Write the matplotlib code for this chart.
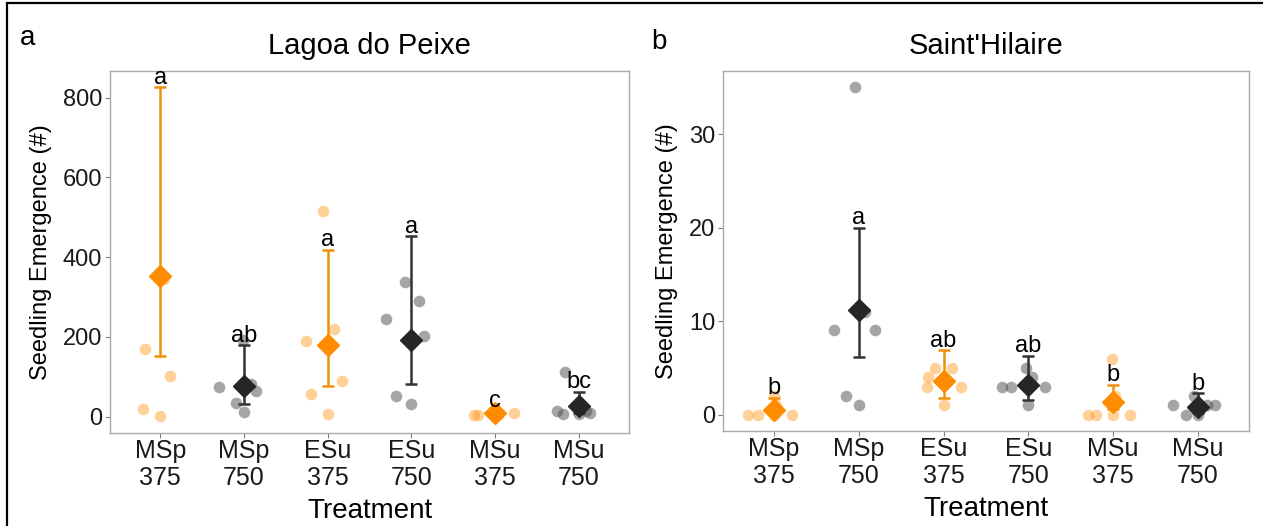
import matplotlib.pyplot as plt
import matplotlib.patches as mpatches

plt.rcParams['font.family'] = ['Liberation Sans', 'DejaVu Sans']

# treatments (same for both sites)
treatments = ['MSp\n375', 'MSp\n750', 'ESu\n375', 'ESu\n750', 'MSu\n375', 'MSu\n750']
is_orange = [True, False, True, False, True, False]

# Lagoa do Peixe: raw points per treatment
lp_points = [
    [170, 102, 20, 2, 346],
    [193, 82, 75, 65, 35, 12],
    [517, 221, 190, 90, 57, 6],
    [339, 290, 246, 202, 52, 33],
    [4, 5, 14, 12, 8, 3],
    [112, 15, 7, 6, 15, 10],
]
lp_mean = [352, 77, 179, 193, 9, 27]
lp_low = [152, 33, 77, 83, 3, 10]
lp_high = [826, 179, 419, 452, 14, 63]
lp_letters = ['a', 'ab', 'a', 'a', 'c', 'bc']

# Saint'Hilaire: raw points per treatment
sh_points = [
    [0, 0, 0, 0, 2, 1],
    [35, 9, 9, 11, 2, 1],
    [5, 5, 4, 3, 3, 1],
    [3, 3, 3, 5, 4, 1],
    [0, 0, 0, 6, 2, 0],
    [1, 0, 2, 1, 1, 0],
]
sh_mean = [0.53, 11.2, 3.56, 3.2, 1.35, 0.82]
sh_low = [0.1, 6.2, 1.74, 1.6, 0.6, 0.2]
sh_high = [1.78, 20.0, 6.9, 6.3, 3.2, 2.3]
sh_letters = ['b', 'a', 'ab', 'ab', 'b', 'b']

# horizontal jitter (in category units)
lp_jitter = [
    [-0.18, 0.12, -0.20, 0.0, 0.04],
    [-0.01, 0.09, -0.30, 0.15, -0.09, 0.0],
    [-0.06, 0.08, -0.26, 0.17, -0.20, 0.0],
    [-0.07, 0.09, -0.30, 0.15, -0.18, 0.0],
    [-0.25, -0.20, 0.0, -0.03, 0.23, 0.03],
    [-0.16, -0.26, -0.19, 0.0, 0.09, 0.13],
]
sh_jitter = [
    [-0.30, -0.19, 0.0, 0.21, 0.0, 0.03],
    [-0.04, -0.29, 0.19, 0.08, -0.15, 0.0],
    [-0.10, 0.105, -0.18, -0.20, 0.20, 0.0],
    [-0.31, -0.20, 0.20, -0.03, 0.04, 0.0],
    [-0.30, -0.20, 0.20, -0.02, 0.02, 0.0],
    [-0.30, -0.14, -0.05, 0.10, 0.20, 0.0],
]

ORANGE = '#FF8C00'
DARK = '#262626'
ORANGE_ERR = '#F0900A'
DARK_ERR = '#333333'

fig = plt.figure(figsize=(12.63, 5.26), dpi=100)
ax_a = fig.add_axes([0.0871, 0.1768, 0.4109, 0.6882])
ax_b = fig.add_axes([0.5724, 0.1806, 0.4165, 0.6844])


def draw_panel(ax, points, jitter, mean, low, high, letters, ylim, yticks, title):
    for i in range(len(treatments)):
        x = i + 1
        col = ORANGE if is_orange[i] else DARK
        pcol = ORANGE if is_orange[i] else '#4d4d4d'
        ecol = ORANGE_ERR if is_orange[i] else DARK_ERR
        xs = [x + j for j in jitter[i]]
        ax.scatter(xs, points[i], s=70, color=pcol, alpha=0.4 if is_orange[i] else 0.5,
                   linewidths=0, zorder=2)
        ax.errorbar([x], [mean[i]], yerr=[[mean[i] - low[i]], [high[i] - mean[i]]],
                    fmt='none', ecolor=ecol, elinewidth=1.8, capsize=4, capthick=1.8,
                    zorder=3)
        ax.plot([x], [mean[i]], marker='D', markersize=11, color=col, linestyle='none',
                zorder=4)
        ax.annotate(letters[i], (x, high[i]), xytext=(0, -1), textcoords='offset points',
                    ha='center', va='bottom', fontsize=17, zorder=5)
    ax.set_xlim(0.4, 6.6)
    ax.set_ylim(*ylim)
    ax.set_yticks(yticks)
    ax.set_xticks(range(1, 7))
    ax.set_xticklabels(treatments, fontsize=18, linespacing=1.15)
    ax.tick_params(axis='y', labelsize=17, pad=2)
    ax.tick_params(axis='x', pad=1)
    ax.tick_params(colors='#7f7f7f', length=3.5, width=0.8)
    ax.tick_params(labelcolor='#1a1a1a')
    for sp in ax.spines.values():
        sp.set_color('#aaaaaa')
        sp.set_linewidth(1.0)
    ax.set_xlabel('Treatment', fontsize=20, labelpad=6)
    ax.set_ylabel('Seedling Emergence (#)', fontsize=17, labelpad=8)
    ax.set_title(title, fontsize=21, pad=12)


draw_panel(ax_a, lp_points, lp_jitter, lp_mean, lp_low, lp_high, lp_letters,
           (-41, 867), [0, 200, 400, 600, 800], 'Lagoa do Peixe')
draw_panel(ax_b, sh_points, sh_jitter, sh_mean, sh_low, sh_high, sh_letters,
           (-1.75, 36.75), [0, 10, 20, 30], "Saint'Hilaire")

fig.text(28 / 1263, 1 - 38 / 526, 'a', fontsize=20, ha='center', va='center')
fig.text(659 / 1263, 1 - 42 / 526, 'b', fontsize=20, ha='center', va='center')

# outer frame around the figure
fig.patches.append(mpatches.Rectangle((7 / 1263, -0.1), 1.2, 1.1 - 3 / 526,
                                      transform=fig.transFigure, fill=False,
                                      edgecolor='black', linewidth=1.6))

fig.savefig('out.png', dpi=100)
